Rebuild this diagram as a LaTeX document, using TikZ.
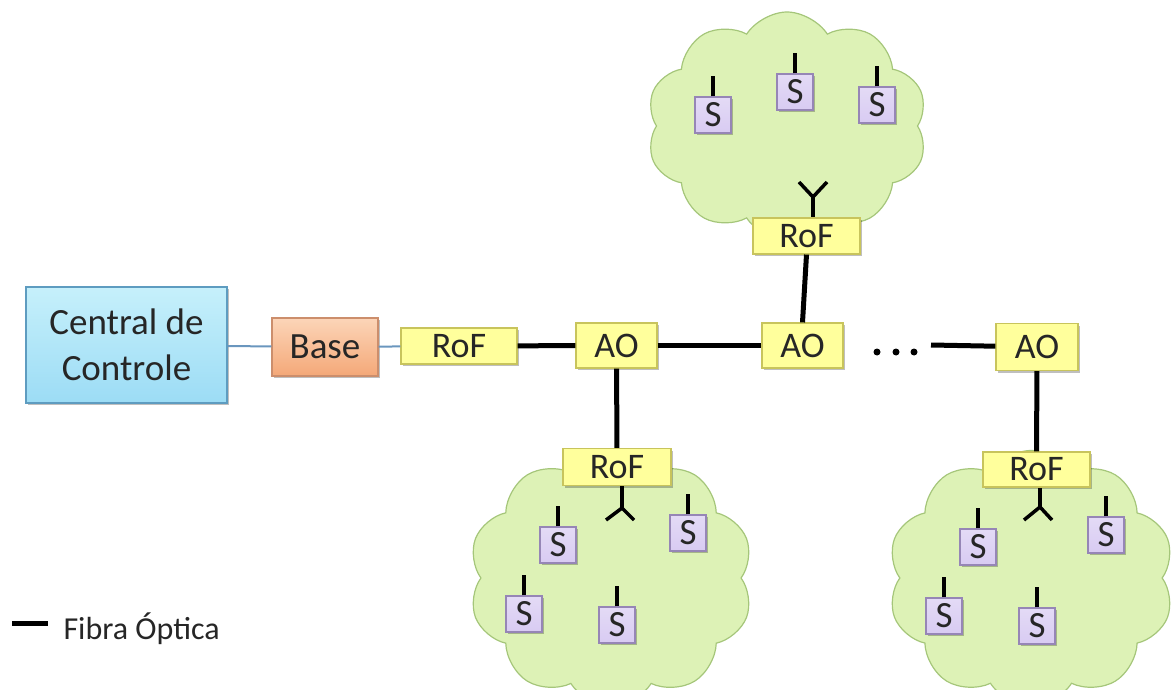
\documentclass[tikz,border=0pt]{standalone}
\usepackage{fontspec}
\setmainfont{Carlito}
\usetikzlibrary{shapes.symbols,shadows}
\definecolor{cloudF}{HTML}{DDF2B6}
\definecolor{cloudB}{HTML}{A5C67A}
\definecolor{yelF}{HTML}{FFFF9C}
\definecolor{yelB}{HTML}{C8C45C}
\definecolor{sF}{HTML}{D8CBF2}
\definecolor{sB}{HTML}{9686B6}
\definecolor{cenT}{HTML}{C6F0FB}
\definecolor{cenB}{HTML}{9CDCF5}
\definecolor{cenD}{HTML}{5E9CC0}
\definecolor{basT}{HTML}{FCD5B8}
\definecolor{basB}{HTML}{F4A878}
\definecolor{basD}{HTML}{CC8E6C}
\definecolor{thinC}{HTML}{6A96BE}
\begin{document}
\begin{tikzpicture}[x=1pt,y=-1pt,
  txt/.style={font=\fontsize{37}{46}\selectfont,text=black!85},
  shad/.style={drop shadow={shadow xshift=2pt,shadow yshift=-2pt,opacity=0.25,fill=black}},
  yelbox/.style={font=\fontsize{36}{42}\selectfont,text=black!85,draw=yelB,fill=yelF,line width=1.2pt,inner sep=0pt,shad},
  sbox/.style={font=\fontsize{37}{42}\selectfont,text=black!85,draw=sB,top color=sF!70!white,bottom color=sF,line width=1.2pt,inner sep=0pt,minimum width=36pt,minimum height=36pt,shad},
  cloudsh/.style={cloud,cloud puffs=10,cloud puff arc=115,draw=cloudB,fill=cloudF,line width=1.2pt,inner sep=0pt},
  fiber/.style={line width=5pt,black},
  ant/.style={line width=3.5pt,black},
  thinline/.style={line width=2pt,draw=thinC}
]
\useasboundingbox (0,0) rectangle (1173,690);
\begin{scope}
\clip (0,0) rectangle (1173,690);
\node[cloudsh,aspect=1.23,minimum width=281pt,minimum height=228pt] (ct) at (787,126) {};
\node[cloudsh,aspect=1.13,minimum width=285pt,minimum height=255pt] (cl) at (611,578) {};
\node[cloudsh,aspect=1.13,minimum width=287pt,minimum height=255pt] (cr) at (1031,578) {};
\end{scope}

% main boxes
\node[txt,draw=cenD,top color=cenT,bottom color=cenB,line width=1.2pt,minimum width=201pt,minimum height=116pt,align=center,inner sep=0pt,shad] (cen) at (126.5,345) {Central de\\Controle};
\node[txt,draw=basD,top color=basT,bottom color=basB,line width=1.2pt,minimum width=106pt,minimum height=58pt,inner sep=0pt,shad] (base) at (325,347) {Base};
\node[yelbox,minimum width=116pt,minimum height=36pt] (rof0) at (459,346) {RoF};
\node[yelbox,minimum width=81pt,minimum height=45pt] (ao1) at (616.5,345.5) {AO};
\node[yelbox,minimum width=81pt,minimum height=45pt] (ao2) at (802.5,345.5) {AO};
\node[yelbox,minimum width=82pt,minimum height=47pt] (ao3) at (1037,347) {AO};
\node[yelbox,minimum width=107pt,minimum height=36pt] (roft) at (806.5,236) {RoF};
\node[yelbox,minimum width=108pt,minimum height=37pt] (rof1) at (617,467) {RoF};
\node[yelbox,minimum width=107pt,minimum height=35pt] (rof3) at (1036.5,469.5) {RoF};

% connectors
\draw[thinline] (cen) -- (base);
\draw[thinline] (base) -- (rof0);
\draw[fiber] (rof0) -- (ao1);
\draw[fiber] (ao1) -- (ao2);
\draw[fiber] (ao1) -- (rof1);
\draw[fiber] (ao2.north) -- (roft.south);
\draw[fiber] (ao3) -- (rof3);
\coordinate (dend) at (931,345);
\draw[fiber] (dend) -- (ao3);
\fill (877,352) circle (3.5) (896,352) circle (3.5) (914,352) circle (3.5);

% antennas Y
\coordinate (yt) at (813,197);
\draw[ant] (yt) -- (yt |- roft.north);
\draw[ant] (yt) -- ++(-14,-15);
\draw[ant] (yt) -- ++(14,-15);
\coordinate (yl) at (622,508);
\draw[ant] (yl) -- (yl |- rof1.south);
\draw[ant] (yl) -- ++(-16,12);
\draw[ant] (yl) -- ++(12,12);
\coordinate (yr) at (1040,507);
\draw[ant] (yr) -- (yr |- rof3.south);
\draw[ant] (yr) -- ++(-16,13);
\draw[ant] (yr) -- ++(12,13);

% sensors
\foreach \n/\x/\y in {t1/713/115,t2/795/92,t3/877/105,
  l1/558/545,l2/688/533,l3/524/614,l4/617/625,
  r1/978/547,r2/1106/535,r3/944/616,r4/1037/626}{
  \node[sbox] (\n) at (\x,\y) {S};
  \draw[ant] (\n.north) -- ++(0,-20);
}

% legend
\coordinate (legs) at (12,623);
\draw[fiber] (legs) -- ++(36,0);
\node[anchor=west,font=\fontsize{32}{38}\selectfont,text=black!85] (leg) at (60,629) {Fibra Óptica};
\end{tikzpicture}
\end{document}
